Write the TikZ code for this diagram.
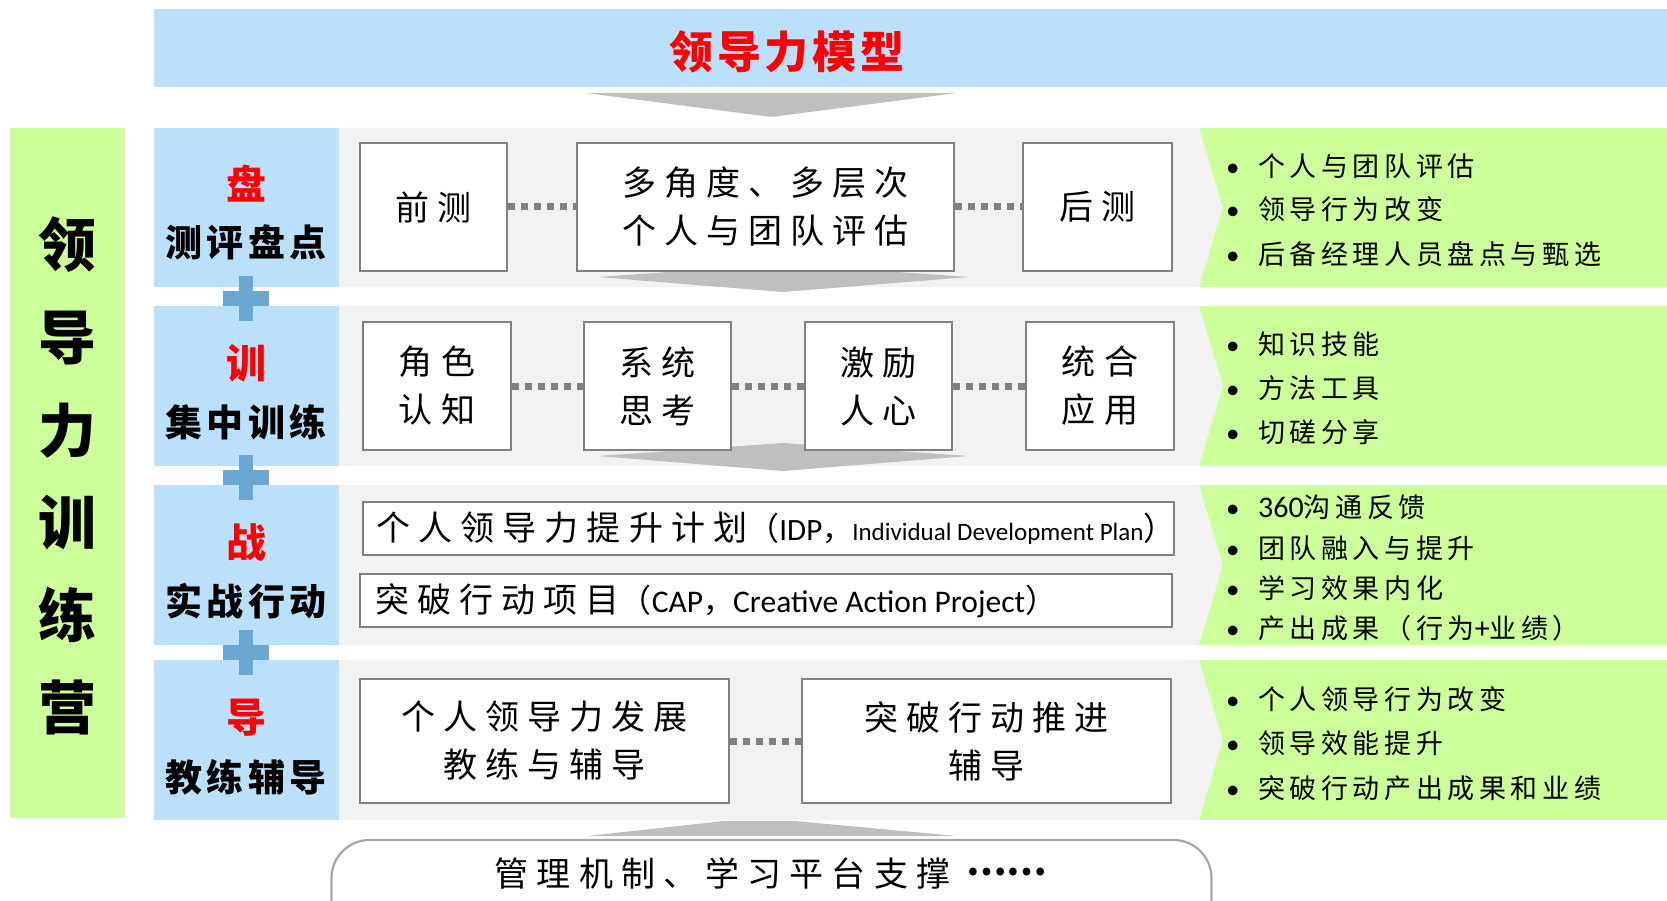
\documentclass[tikz,border=0pt]{standalone}
\usepackage{fontspec}
\setmainfont{Noto Sans CJK SC}
\newfontfamily\cjk{Noto Sans CJK SC}
\newfontfamily\cjkbox[LetterSpace=24]{Noto Sans CJK SC}
\newfontfamily\cjklab[LetterSpace=12]{Noto Sans CJK SC}
\newfontfamily\cjkbul[LetterSpace=17]{Noto Sans CJK SC}
\newfontfamily\cjktitle[LetterSpace=9]{Noto Sans CJK SC}
\newfontfamily\lat{Carlito}
\definecolor{bluec}{RGB}{187,224,251}
\definecolor{greenc}{RGB}{204,255,153}
\definecolor{graybg}{RGB}{242,242,242}
\definecolor{arrowgray}{RGB}{191,191,191}
\definecolor{boxgray}{RGB}{128,128,128}
\definecolor{plusblue}{RGB}{106,168,211}
\definecolor{basegray}{RGB}{166,166,166}
\definecolor{titlered}{RGB}{255,0,0}
\begin{document}
\begin{tikzpicture}[x=1pt,y=-1pt,
  box/.style={draw=boxgray, line width=2.2pt, fill=white, inner sep=0pt, align=center,
    font=\cjkbox\fontsize{34}{48}\selectfont},
  dotline/.style={draw=boxgray, line width=7pt, dash pattern=on 7pt off 6pt},
  diam/.style={fill=arrowgray},
  plusbar/.style={fill=plusblue},
  redch/.style={inner sep=0pt, text=titlered, font=\cjk\bfseries\fontsize{40}{40}\selectfont},
  lab/.style={inner sep=0pt, font=\cjklab\bfseries\fontsize{37}{40}\selectfont},
  colch/.style={inner sep=0pt, font=\cjk\bfseries\fontsize{58}{58}\selectfont},
  bul/.style={inner sep=0pt, anchor=west, font=\cjkbul\fontsize{27}{30}\selectfont},
  txt/.style={inner sep=0pt}]
\useasboundingbox (0,0) rectangle (1667,901);
\fill[white] (0,0) rectangle (1667,901);

% top banner
\fill[bluec] (154,9) rectangle (1667,87);
\node[txt, text=titlered, font=\cjktitle\bfseries\fontsize{44}{44}\selectfont] (title) at (787,52) {领导力模型};
\fill[arrowgray, rounded corners=2pt] (586,93) -- (957,93) -- (771,117) -- cycle;

% left column
\fill[greenc] (10,128) rectangle (125,818);
\foreach \c/\yy [count=\i] in {领/245,导/338,力/431,训/523,练/615,营/707}
  \node[colch] (col\i) at (67,\yy) {\c};

% row bands
\foreach \t/\b/\m in {128/287/207.5, 306/466/386, 485/645/565, 660/820/740}{
  \fill[bluec] (154,\t) rectangle (339,\b);
  \fill[graybg] (339,\t) -- (1199,\t) -- (1223,\m) -- (1199,\b) -- (339,\b) -- cycle;
  \fill[greenc] (1199,\t) -- (1667,\t) -- (1667,\b) -- (1199,\b) -- (1223,\m) -- cycle;
}

% plus signs
\foreach \yy in {298.5,477.5,652}{
  \fill[plusbar] (223,\yy-7.5) rectangle (269,\yy+7.5);
  \fill[plusbar] (239,\yy-22.5) rectangle (253,\yy+22.5);
}

% blue cell labels
\node[redch] (r1) at (246,184) {盘};
\node[lab] (l1) at (246,242) {测评盘点};
\node[redch] (r2) at (246,363) {训};
\node[lab] (l2) at (246,422) {集中训练};
\node[redch] (r3) at (246,542) {战};
\node[lab] (l3) at (246,601) {实战行动};
\node[redch] (r4) at (246,718) {导};
\node[lab] (l4) at (246,777) {教练辅导};

% diamonds under rows 1 and 2
\fill[diam] (598,277) -- (783,264) -- (969,277) -- (783,292) -- cycle;
\fill[diam] (598,456) -- (783,443) -- (969,456) -- (783,471) -- cycle;

% row 1 boxes
\node[box, minimum width=147pt, minimum height=128pt] (pre) at (433.5,207) {前测};
\node[box, minimum width=377pt, minimum height=128pt] (multi) at (765.5,207) {多角度、多层次\\个人与团队评估};
\node[box, minimum width=149pt, minimum height=128pt] (post) at (1097.5,207) {后测};
\draw[dotline] (pre.east) -- (multi.west);
\draw[dotline] (multi.east) -- (post.west);

% row 2 boxes
\node[box, minimum width=148pt, minimum height=128pt] (role) at (437,386) {角色\\认知};
\node[box, minimum width=147pt, minimum height=128pt] (sys) at (657.5,386) {系统\\思考};
\node[box, minimum width=147pt, minimum height=128pt] (moti) at (878.5,386) {激励\\人心};
\node[box, minimum width=148pt, minimum height=128pt] (integ) at (1100,386) {统合\\应用};
\draw[dotline] (role.east) -- (sys.west);
\draw[dotline] (sys.east) -- (moti.west);
\draw[dotline] (moti.east) -- (integ.west);

% row 3 boxes
\node[box, minimum width=811pt, minimum height=53pt] (idp) at (768.5,528.5) {};
\node[txt, anchor=west] (idpt) at ([xshift=14pt]idp.west)
  {{\cjkbox\fontsize{34}{40}\selectfont 个人领导力提升计划}{\cjk\fontsize{32}{40}\selectfont （}{\lat\fontsize{31}{40}\selectfont IDP}{\cjk\fontsize{30}{40}\selectfont ，}{\lat\fontsize{25}{40}\selectfont Individual Development Plan}{\cjk\fontsize{32}{40}\selectfont ）}};
\node[box, minimum width=812pt, minimum height=53pt] (cap) at (766,600.5) {};
\node[txt, anchor=west] (capt) at ([xshift=16pt]cap.west)
  {{\cjkbox\fontsize{34}{40}\selectfont 突破行动项目}{\cjkbox\fontsize{32}{40}\selectfont （}{\lat\fontsize{31.5}{40}\selectfont CAP}{\cjkbox\fontsize{30}{40}\selectfont ，}{\lat\fontsize{31.5}{40}\selectfont Creative Action Project}{\cjk\fontsize{32}{40}\selectfont ）}};

% row 4 boxes
\node[box, minimum width=369pt, minimum height=124pt] (coach) at (544.5,741) {个人领导力发展\\教练与辅导};
\node[box, minimum width=369pt, minimum height=124pt] (push) at (986.5,741) {突破行动推进\\辅导};
\draw[dotline] (coach.east) -- (push.west);

% bottom arrow and base box
\fill[arrowgray, rounded corners=2pt] (587,836) -- (724,821) -- (795,821) -- (957,836) -- cycle;
\node[draw=basegray, line width=2.2pt, fill=white, rounded corners=38pt,
  minimum width=880pt, minimum height=100pt, inner sep=0pt] (base) at (771.5,890) {};
\node[txt, font=\cjkbox\fontsize{34}{40}\selectfont] (baset) at (771,873) {管理机制、学习平台支撑\hspace{16pt}\raisebox{11pt}{\cjk\bfseries\fontsize{36}{40}\selectfont ……}};

% right bullets
\node[bul] (b11) at (1226,166) {\makebox[32pt][l]{\lat •}个人与团队评估};
\node[bul] (b12) at (1226,209) {\makebox[32pt][l]{\lat •}领导行为改变};
\node[bul] (b13) at (1226,254) {\makebox[32pt][l]{\lat •}后备经理人员盘点与甄选};
\node[bul] (b21) at (1226,344) {\makebox[32pt][l]{\lat •}知识技能};
\node[bul] (b22) at (1226,388) {\makebox[32pt][l]{\lat •}方法工具};
\node[bul] (b23) at (1226,432) {\makebox[32pt][l]{\lat •}切磋分享};
\node[bul] (b31) at (1226,507) {\makebox[32pt][l]{\lat •}{\lat\fontsize{30}{30}\selectfont 360}沟通反馈};
\node[bul] (b32) at (1226,548) {\makebox[32pt][l]{\lat •}团队融入与提升};
\node[bul] (b33) at (1226,588) {\makebox[32pt][l]{\lat •}学习效果内化};
\node[bul] (b34) at (1226,628) {\makebox[32pt][l]{\lat •}产出成果（行为{\lat\fontsize{30}{30}\selectfont +}业绩）};
\node[bul] (b41) at (1226,699) {\makebox[32pt][l]{\lat •}个人领导行为改变};
\node[bul] (b42) at (1226,743) {\makebox[32pt][l]{\lat •}领导效能提升};
\node[bul] (b43) at (1226,788) {\makebox[32pt][l]{\lat •}突破行动产出成果和业绩};
\end{tikzpicture}
\end{document}
